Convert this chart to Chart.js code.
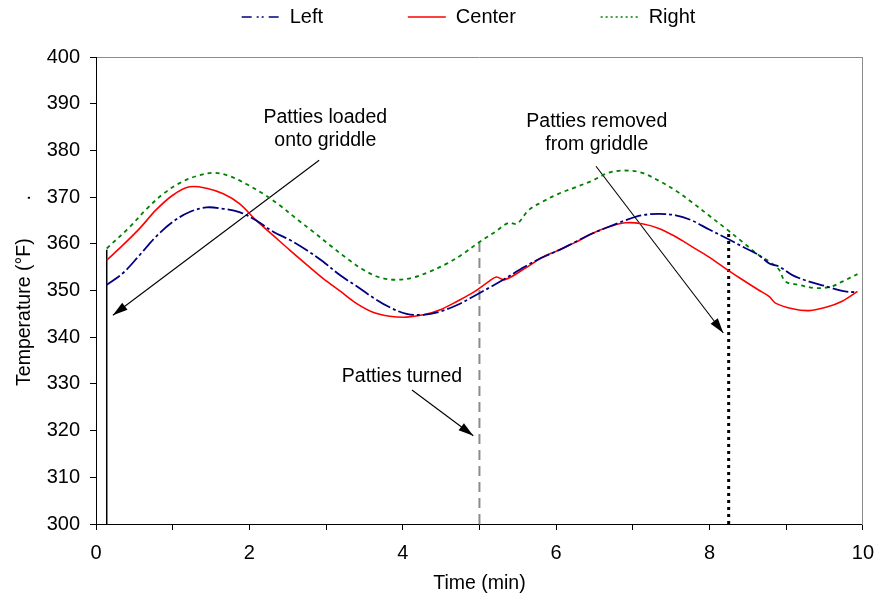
<!DOCTYPE html>
<html>
<head>
<meta charset="utf-8">
<script src="https://cdn.jsdelivr.net/npm/chart.js@4/dist/chart.umd.min.js"></script>
<style>
  html, body { margin:0; padding:0; background:#fff; }
</style>
</head>
<body>
<canvas id="grafica" width="885" height="600"></canvas>
<script>
// lecturas de la gráfica (tiempo en min, temperatura en °F)
const tiempoLeft = [0.14,0.35,0.57,0.78,1.00,1.22,1.44,1.66,1.87,2.09,2.31,2.53,2.75,2.96,3.18,3.40,3.62,3.83,4.05,4.27,4.49,4.71,4.92,5.16,5.31,5.59,5.81,6.03,6.25,6.47,6.68,6.90,7.12,7.34,7.56,7.77,7.99,8.21,8.43,8.64,8.78,8.91,9.08,9.30,9.52,9.73,9.91];
const tempLeft   = [351.2,353.7,357.6,361.5,364.7,366.8,367.8,367.5,366.8,365.0,362.6,360.8,358.6,356.2,353.3,350.9,348.4,346.4,345.0,344.8,345.5,346.9,348.7,350.9,352.3,355.1,357.0,358.6,360.4,362.2,363.6,365.0,366.1,366.4,366.1,365.0,363.1,361.3,359.4,357.6,355.8,355.1,353.3,351.9,350.9,349.9,349.6];

const tiempoCenter = [0.14,0.35,0.57,0.78,1.00,1.22,1.44,1.66,1.87,2.09,2.31,2.53,2.75,2.96,3.18,3.40,3.62,3.83,4.05,4.27,4.49,4.71,4.92,5.12,5.22,5.33,5.59,5.81,6.03,6.25,6.47,6.68,6.90,7.12,7.34,7.56,7.77,7.99,8.21,8.43,8.64,8.78,8.86,9.08,9.30,9.52,9.73,9.93];
const tempCenter   = [356.5,359.7,363.3,367.2,370.4,372.2,371.9,370.7,368.6,365.0,361.8,358.6,355.5,352.6,349.9,347.2,345.3,344.5,344.3,344.8,345.9,347.7,349.6,351.9,352.9,352.3,354.7,357.0,358.6,360.3,362.2,363.6,364.5,364.3,363.3,361.5,359.4,357.2,354.7,352.3,350.1,348.7,347.3,346.1,345.7,346.4,347.7,349.8];

const tiempoRight = [0.14,0.44,0.65,0.87,1.09,1.31,1.53,1.74,1.96,2.18,2.40,2.61,2.83,3.05,3.27,3.49,3.70,3.92,4.14,4.36,4.58,4.79,5.00,5.20,5.38,5.49,5.64,5.81,6.03,6.25,6.47,6.68,6.90,7.12,7.34,7.56,7.77,7.99,8.21,8.43,8.64,8.78,8.91,8.99,9.17,9.39,9.60,9.73,9.93];
const tempRight   = [359.0,363.6,367.3,370.6,373.0,374.5,375.2,374.5,372.8,370.7,368.2,365.4,362.6,359.7,356.9,354.4,352.8,352.3,352.8,354.1,355.8,357.9,360.4,362.5,364.5,364.3,367.2,368.9,370.7,372.1,373.5,375.2,375.7,375.2,373.5,371.4,368.9,366.1,363.3,360.4,357.6,356.2,354.4,351.9,351.2,350.5,350.9,351.9,353.5];

// marcas verticales: [tiempo, temp. inferior, temp. superior]
const marcaCarga  = [0.14, 300, 358.7];
const marcaVuelta = [5.00, 300, 360.2];
const marcaRetiro = [8.25, 300, 362.5];

// flechas: [t inicio, T inicio, t fin, T fin]
const flechaCarga  = [2.91, 377.9, 0.22, 344.7];
const flechaVuelta = [4.12, 328.7, 4.92, 318.9];
const flechaRetiro = [6.52, 376.6, 8.18, 340.9];

// textos: [líneas, t, T]
const notas = [
  [['Patties loaded', 'onto griddle'], 2.99, 384.6],
  [['Patties turned'], 3.99, 331.5],
  [['Patties removed', 'from griddle'], 6.53, 383.7]
];

const ejeY = { min:300, max:400, paso:5 };
const ejeX = { min:0, max:10, paso:1 };

// trazos de la leyenda (muestra corta, distinta del trazo en la gráfica)
const dashLeyenda = [[10, 5, 2, 3, 2, 5], [], [2, 3]];

const FUENTE = '"Liberation Sans", Arial, sans-serif';
const pares = (xs, ys) => xs.map((x, i) => ({ x, y: ys[i] }));
const vertical = m => [{ x:m[0], y:m[1] }, { x:m[0], y:m[2] }];
const flecha = f => [{ x:f[0], y:f[1] }, { x:f[2], y:f[3] }];

const serie = (label, datos, color, ancho, dash) => ({
  label, data: datos, borderColor: color, backgroundColor: color, borderWidth: ancho,
  borderDash: dash, pointRadius: 0, tension: 0.35, fill: false
});
const guia = (datos, color, ancho, dash) => ({
  label: '', data: datos, borderColor: color, borderWidth: ancho, borderDash: dash,
  pointRadius: 0, tension: 0, fill: false
});

// puntas de flecha y textos
const anotaciones = {
  id: 'anotaciones',
  afterDatasetsDraw(chart) {
    const ctx = chart.ctx;
    chart.data.datasets.forEach((ds, i) => {
      if (!ds.flecha) return;
      const pts = chart.getDatasetMeta(i).data;
      const a = pts[0], b = pts[1];
      const ang = Math.atan2(b.y - a.y, b.x - a.x);
      ctx.save();
      ctx.translate(b.x, b.y);
      ctx.rotate(ang);
      ctx.beginPath();
      ctx.moveTo(0, 0);
      ctx.lineTo(-15, -4.5);
      ctx.lineTo(-15, 4.5);
      ctx.closePath();
      ctx.fillStyle = '#000';
      ctx.fill();
      ctx.restore();
    });
    const sx = chart.scales.x, sy = chart.scales.y;
    ctx.save();
    ctx.font = '19.5px ' + FUENTE;
    ctx.fillStyle = '#000';
    ctx.textAlign = 'center';
    ctx.textBaseline = 'middle';
    notas.forEach(([lineas, t, T]) => {
      const px = sx.getPixelForValue(t), py = sy.getPixelForValue(T);
      const y0 = py - (lineas.length - 1) * 23 / 2;
      lineas.forEach((l, k) => ctx.fillText(l, px, y0 + k * 23));
    });
    ctx.restore();
  }
};

// mueve la leyenda para centrarla como en el original
const leyendaDesplazada = {
  id: 'leyendaDesplazada',
  afterLayout(chart) { chart.legend.left += 52; }
};

new Chart(document.getElementById('grafica').getContext('2d'), {
  type: 'line',
  data: {
    datasets: [
      serie('Left', pares(tiempoLeft, tempLeft), '#000080', 1.8, [16, 3, 3, 3]),
      serie('Center', pares(tiempoCenter, tempCenter), '#ff0000', 1.6, []),
      serie('Right', pares(tiempoRight, tempRight), '#008000', 1.8, [4, 4]),
      guia(vertical(marcaCarga), '#000', 1.5, []),
      guia(vertical(marcaVuelta), '#8c8c8c', 2, [10, 6]),
      guia(vertical(marcaRetiro), '#000', 3, [3, 4]),
      Object.assign(guia(flecha(flechaCarga), '#000', 1.1, []), { flecha: true }),
      Object.assign(guia(flecha(flechaVuelta), '#000', 1.1, []), { flecha: true }),
      Object.assign(guia(flecha(flechaRetiro), '#000', 1.1, []), { flecha: true })
    ]
  },
  options: {
    responsive: false,
    animation: false,
    layout: { padding: 0 },
    plugins: {
      legend: {
        position: 'top',
        labels: {
          font: { family: FUENTE, size: 20 },
          color: '#000',
          padding: 7,
          usePointStyle: true,
          pointStyle: 'line',
          pointStyleWidth: 38,
          generateLabels(chart) {
            const items = Chart.defaults.plugins.legend.labels.generateLabels(chart).filter(it => it.datasetIndex < 3);
            items.forEach((it, k) => {
              const ds = chart.data.datasets[it.datasetIndex];
              it.pointStyle = 'line';
              it.lineDash = dashLeyenda[k];
              it.lineWidth = 1.6;
              it.strokeStyle = ds.borderColor;
              if (k < items.length - 1) it.text += ' '.repeat(14);
            });
            return items;
          }
        }
      },
      tooltip: { enabled: false }
    },
    scales: {
      x: {
        type: 'linear', position: 'bottom', min: ejeX.min, max: ejeX.max,
        afterFit: s => { s.height = 76; },
        border: { color: '#000', width: 1 },
        grid: { drawOnChartArea: false, color: '#000', tickLength: 6 },
        ticks: { stepSize: ejeX.paso, color: '#000', font: { family: FUENTE, size: 20 }, padding: 11, maxRotation: 0,
          callback: v => (v % 2 === 0 ? v : '') },
        title: { display: true, text: 'Time (min)', color: '#000', font: { family: FUENTE, size: 19.5 }, padding: { top: 0, bottom: 5 } }
      },
      x2: {
        type: 'linear', position: 'top', min: ejeX.min, max: ejeX.max,
        afterFit: s => { s.height = 20; },
        border: { color: '#8c8c8c', width: 1 },
        grid: { display: false },
        ticks: { display: false }
      },
      y: {
        type: 'linear', position: 'left', min: ejeY.min, max: ejeY.max,
        afterFit: s => { s.width = 96; },
        border: { color: '#000', width: 1 },
        grid: { drawOnChartArea: false, color: '#000', tickLength: 6 },
        ticks: { stepSize: ejeY.paso, color: '#000', font: { family: FUENTE, size: 20 }, padding: 10,
          callback: v => (v % 10 === 0 ? v : '') },
        title: { display: true, text: 'Temperature (°F)       .', color: '#000', font: { family: FUENTE, size: 19.5 }, padding: { top: 13, bottom: 0 } }
      },
      y2: {
        type: 'linear', position: 'right', min: ejeY.min, max: ejeY.max,
        afterFit: s => { s.width = 22; },
        border: { color: '#8c8c8c', width: 1 },
        grid: { display: false },
        ticks: { display: false }
      }
    }
  },
  plugins: [anotaciones, leyendaDesplazada]
});
</script>
</body>
</html>
